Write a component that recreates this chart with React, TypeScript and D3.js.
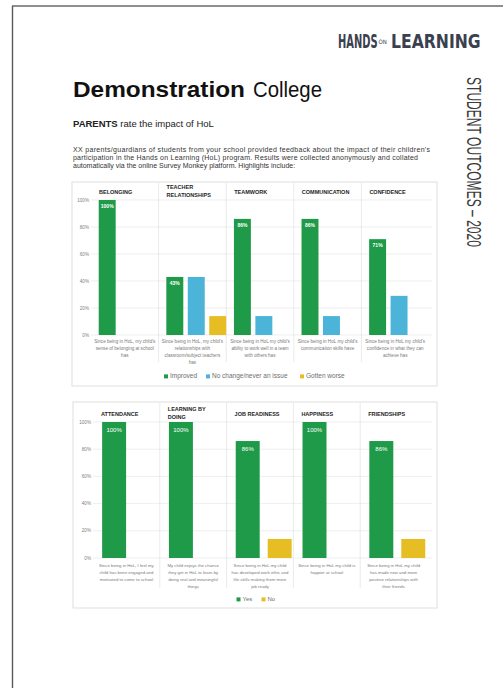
import * as d3 from "d3";

// ---- data ----
const parentTopics = [["BELONGING"], ["TEACHER", "RELATIONSHIPS"], ["TEAMWORK"], ["COMMUNICATION"], ["CONFIDENCE"]];
const parentQuestions = [
  ["Since being in HoL, my child's", "sense of belonging at school", "has"],
  ["Since being in HoL, my child's", "relationships with", "classroom/subject teachers", "has"],
  ["Since being in HoL my child's", "ability to work well in a team", "with others has"],
  ["Since being in HoL my child's", "communication skills have"],
  ["Since being in HoL my child's", "confidence in what they can", "achieve has"],
];
const impactSeries = ["Improved", "No change/never an issue", "Gotten worse"];
const improvedValues = [100, 43, 86, 86, 71];
const noChangeValues = [0, 43, 14, 14, 29];
const worseValues = [0, 14, 0, 0, 0];

const outcomeTopics = [["ATTENDANCE"], ["LEARNING BY", "DOING"], ["JOB READINESS"], ["HAPPINESS"], ["FRIENDSHIPS"]];
const outcomeQuestions = [
  ["Since being in HoL, I feel my", "child has been engaged and", "motivated to come to school"],
  ["My child enjoys the chance", "they get in HoL to learn by", "doing real and meaningful", "things"],
  ["Since being in HoL my child", "has developed work ethic and", "life skills making them more", "job ready"],
  ["Since being in HoL my child is", "happier at school"],
  ["Since being in HoL my child", "has made new and more", "positive relationships with", "their friends"],
];
const answerSeries = ["Yes", "No"];
const yesValues = [100, 100, 86, 100, 86];
const noValues = [0, 0, 14, 0, 14];

const yTicks = [0, 20, 40, 60, 80, 100];

const GREEN = "#1f9a48";
const BLUE = "#4cb3d9";
const YELLOW = "#e6be24";
const FONT = "'Liberation Sans', Arial, sans-serif";
const LOGO_FONT = "'DejaVu Sans Condensed', 'DejaVu Sans', sans-serif";

type Box = { x: number; y: number; w: number; h: number };

interface PanelChartProps {
  box: Box;
  x0: number;
  x1: number;
  yZero: number;
  yFull: number;
  topics: string[][];
  questions: string[][];
  series: string[];
  values: number[][];
  colors: string[];
  pad: { inner: number; outer: number; align: number };
  titleY: number;
  titleSize: number;
  questionY: number;
  questionSize: number;
  legendY: number;
  legendSize: number;
  dividerBottom: number;
  valueSize: number;
  valueDy: number;
  valueBold: boolean;
}

const PanelChart = (p: PanelChartProps) => {
  const outer = d3
    .scaleBand<number>()
    .domain(d3.range(p.topics.length))
    .range([p.x0, p.x1]);
  const inner = d3
    .scaleBand<string>()
    .domain(p.series)
    .range([0, outer.bandwidth()])
    .paddingInner(p.pad.inner)
    .paddingOuter(p.pad.outer)
    .align(p.pad.align);
  const y = d3.scaleLinear().domain([0, 100]).range([p.yZero, p.yFull]);

  // legend layout (rough text widths)
  const cw = p.legendSize * 0.5;
  const items = p.series.map((s) => 4 + 2 + s.length * cw);
  const legendW = d3.sum(items) + 10 * (items.length - 1);
  let lx = p.box.x + p.box.w / 2 - legendW / 2;
  const legendX = items.map((w) => {
    const v = lx;
    lx += w + 10;
    return v;
  });

  return (
    <g>
      <rect x={p.box.x} y={p.box.y} width={p.box.w} height={p.box.h} fill="#fff" stroke="#d6d6d6" strokeWidth={0.8} />
      {/* gridlines + y ticks */}
      {yTicks.map((t) => (
        <g key={t}>
          <line x1={p.x0} x2={p.box.x + p.box.w - 5} y1={y(t)} y2={y(t)} stroke="#e2e2e2" strokeWidth={0.6} />
          <text x={p.x0 - 2} y={y(t) + 1.6} textAnchor="end" fontSize={4.6} fill="#808080">
            {t}%
          </text>
        </g>
      ))}
      {/* panel dividers */}
      {d3.range(1, p.topics.length).map((i) => (
        <line key={i} x1={outer(i)!} x2={outer(i)!} y1={p.box.y + 1} y2={p.dividerBottom} stroke="#dcdcdc" strokeWidth={0.6} />
      ))}
      {/* titles */}
      {p.topics.map((lines, i) =>
        lines.map((ln, j) => (
          <text
            key={i + "-" + j}
            x={outer(i)! + 8}
            y={lines.length === 1 ? p.titleY : p.titleY - 5.5 + j * 8.5}
            fontSize={p.titleSize}
            fontWeight="bold"
            fill="#1e1e1e"
          >
            {ln}
          </text>
        ))
      )}
      {/* bars */}
      {p.values.map((vals, s) =>
        vals.map((v, i) =>
          v > 0 ? (
            <rect
              key={s + "-" + i}
              x={outer(i)! + inner(p.series[s])!}
              y={y(v)}
              width={inner.bandwidth()}
              height={y(0) - y(v)}
              fill={p.colors[s]}
            />
          ) : null
        )
      )}
      {/* value labels on first series */}
      {p.values[0].map((v, i) => (
        <text
          key={"v" + i}
          x={outer(i)! + inner(p.series[0])! + inner.bandwidth() / 2}
          y={y(v) + p.valueDy}
          textAnchor="middle"
          fontSize={p.valueSize}
          fontWeight={p.valueBold ? "bold" : "normal"}
          fill="#fff"
        >
          {v}%
        </text>
      ))}
      {/* question text under each panel */}
      {p.questions.map((lines, i) =>
        lines.map((ln, j) => (
          <text
            key={"q" + i + "-" + j}
            x={outer(i)! + outer.bandwidth() / 2}
            y={p.questionY + j * 7}
            textAnchor="middle"
            fontSize={p.questionSize}
            fill="#7a7a7a"
          >
            {ln}
          </text>
        ))
      )}
      {/* legend */}
      {p.series.map((s, i) => (
        <g key={s}>
          <rect x={legendX[i]} y={p.legendY - 3.6} width={4} height={4} fill={p.colors[i]} />
          <text x={legendX[i] + 6} y={p.legendY} fontSize={p.legendSize} fill="#6e6e6e">
            {s}
          </text>
        </g>
      ))}
    </g>
  );
};

const App = () => {
  return (
    <svg
      width={503}
      height={688}
      fontFamily={FONT}
      style={{ position: "absolute", left: 0, top: 0, background: "#fff" }}
    >
      <rect x={0} y={0} width={503} height={688} fill="#fff" />
      {/* page edges */}
      <line x1={12} x2={503} y1={6} y2={6} stroke="#6a6a6a" strokeWidth={1.4} />
      <line x1={12.5} x2={12.5} y1={6} y2={688} stroke="#5a5a5a" strokeWidth={1.4} />

      {/* logo: condensed lettering done with a horizontal squeeze */}
      <g fill="#3b404e" fontFamily={LOGO_FONT} fontWeight="bold">
        <text transform="translate(338,48) scale(0.55,1)" fontSize={20}>HANDS</text>
        <text x={378.5} y={44} fontSize={6} fontWeight="normal">ON</text>
        <text transform="translate(391,48) scale(0.87,1)" fontSize={20}>LEARNING</text>
      </g>

      {/* side label */}
      <text
        transform="translate(467,77) rotate(90)"
        fontSize={20}
        fill="#3a3a3a"
        textLength={170}
        lengthAdjust="spacingAndGlyphs"
      >
        STUDENT OUTCOMES – 2020
      </text>

      {/* heading */}
      <text x={73} y={97} fontSize={22} fill="#111" fontWeight="bold" textLength={172} lengthAdjust="spacingAndGlyphs">
        Demonstration
      </text>
      <text x={253} y={97} fontSize={22} fill="#111" textLength={69} lengthAdjust="spacingAndGlyphs">
        College
      </text>
      <text x={73} y={127} fontSize={9.5} fill="#222">
        <tspan fontWeight="bold">PARENTS</tspan> rate the impact of HoL
      </text>
      <g fontSize={7} fill="#333">
        <text x={73} y={152} textLength={357}>
          XX parents/guardians of students from your school provided feedback about the impact of their children's
        </text>
        <text x={73} y={160} textLength={345}>
          participation in the Hands on Learning (HoL) program. Results were collected anonymously and collated
        </text>
        <text x={73} y={168}>
          automatically via the online Survey Monkey platform. Highlights include:
        </text>
      </g>

      <PanelChart
        box={{ x: 72, y: 182, w: 365, h: 204 }}
        x0={91}
        x1={429}
        yZero={335}
        yFull={200}
        topics={parentTopics}
        questions={parentQuestions}
        series={impactSeries}
        values={[improvedValues, noChangeValues, worseValues]}
        colors={[GREEN, BLUE, YELLOW]}
        pad={{ inner: 0.21, outer: 0.18, align: 1 }}
        titleY={194}
        titleSize={5.5}
        questionY={343}
        questionSize={4.6}
        legendY={378}
        legendSize={6.5}
        dividerBottom={362}
        valueSize={5}
        valueDy={8}
        valueBold={true}
      />

      <PanelChart
        box={{ x: 73, y: 402, w: 364, h: 206 }}
        x0={93}
        x1={427}
        yZero={558}
        yFull={422}
        topics={outcomeTopics}
        questions={outcomeQuestions}
        series={answerSeries}
        values={[yesValues, noValues]}
        colors={[GREEN, YELLOW]}
        pad={{ inner: 0.25, outer: 0.17, align: 0.84 }}
        titleY={416}
        titleSize={5.5}
        questionY={567}
        questionSize={4.3}
        legendY={601}
        legendSize={6}
        dividerBottom={588}
        valueSize={6}
        valueDy={10}
        valueBold={false}
      />
    </svg>
  );
};

export default App;
